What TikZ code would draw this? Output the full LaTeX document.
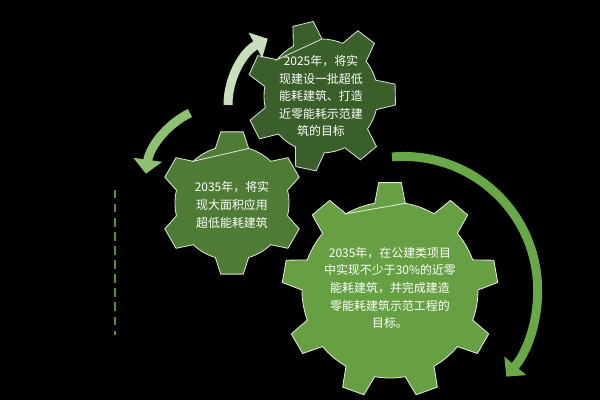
\documentclass[tikz,border=0pt]{standalone}
\usepackage{fontspec}
\setmainfont{Noto Sans CJK SC}
\usetikzlibrary{arrows.meta}
\definecolor{gearA}{HTML}{3A5F2A}
\definecolor{gearB}{HTML}{4E7C34}
\definecolor{gearC}{HTML}{66A043}
\definecolor{arrowA}{HTML}{C8DFBC}
\definecolor{arrowB}{HTML}{8EC072}
\definecolor{arrowC}{HTML}{68A846}
% #1 center, #2 teeth, #3 inner r, #4 outer r, #5 start angle, #6 base half angle, #7 tip half angle, #8 colour
\newcommand\gearshape[8]{%
	\begin{scope}[shift={#1}]
	\filldraw[fill=#8, draw=white!80!#8, line width=0.6pt] (#5-#6:#3)
	\foreach \i [evaluate=\i as \a using #5+\i*360/#2] in {0,...,#2}{
		-- (\a-#7:#4) -- (\a+#7:#4) -- (\a+#6:#3)
		arc[start angle=\a+#6, end angle=\a+360/#2-#6, radius=#3]
	} -- cycle;
	\end{scope}}
\begin{document}
\begin{tikzpicture}[x=0.025cm, y=0.025cm,
	gtext/.style={text=white, align=center, font=\fontsize{8.5}{12.5}\selectfont},
	curvearrow/.style={line width=6.4pt, -{Triangle[length=10pt, width=20pt]}}]
	%background
	\fill[black] (0,0) rectangle (600,400);
	%dashed line
	\draw[color=arrowC!85!black, line width=1.6pt, dash pattern=on 6pt off 4pt] (115,210) -- (115,65);
	%gears
	\gearshape{(321,304)}{7}{57}{75}{104}{15}{8}{gearA}
	\gearshape{(232,197)}{6}{57}{72}{90}{17}{9}{gearB}
	\gearshape{(390,110)}{9}{88}{108}{90}{10}{6}{gearC}
	%texts
	\node[gtext] (top) at (321,304) {2025年，将实\\现建设一批超低\\能耗建筑、打造\\近零能耗示范建\\筑的目标};
	\node[gtext] (mid) at (232,195) {2035年，将实\\现大面积应用\\超低能耗建筑};
	\node[gtext] (big) at (390,112) {2035年，在公建类项目\\中实现不少于30\%的近零\\能耗建筑，并完成建造\\零能耗建筑示范工程的\\目标。};
	%arrows
	\draw[curvearrow, arrowA] (228,295) arc[start angle=180, end angle=118, radius=75];
	\draw[curvearrow, arrowB] (190,287) arc[start angle=116, end angle=172, radius=80];
	\draw[curvearrow, arrowC] (392,243) arc[start angle=95, end angle=-40, radius=134];
\end{tikzpicture}
\end{document}
